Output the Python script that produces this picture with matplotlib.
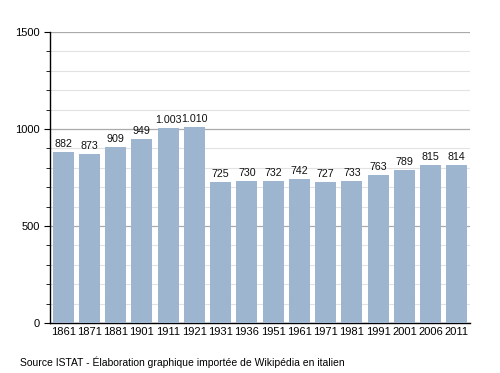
import matplotlib
matplotlib.use("Agg")
import matplotlib.pyplot as plt
from matplotlib.ticker import MultipleLocator

years = ["1861", "1871", "1881", "1901", "1911", "1921", "1931", "1936",
         "1951", "1961", "1971", "1981", "1991", "2001", "2006", "2011"]
population = [882, 873, 909, 949, 1003, 1010, 725, 730, 732, 742, 727, 733, 763, 789, 815, 814]
labels = ["882", "873", "909", "949", "1.003", "1.010", "725", "730", "732", "742",
          "727", "733", "763", "789", "815", "814"]

plt.rcParams['font.family'] = ['Liberation Sans', 'DejaVu Sans']

fig = plt.figure(figsize=(5, 3.73), dpi=100)
ax = fig.add_axes([0.1, 0.134, 0.84, 0.780])

x = range(len(years))
ax.bar(x, population, width=0.8, color='#9db5cf', zorder=3)
for xi, v, lab in zip(x, population, labels):
    ax.text(xi, v + 16, lab, ha='center', va='bottom', fontsize=7.7, color='#111111', zorder=4)

ax.set_xlim(-0.5, len(years) - 0.5)
ax.set_ylim(0, 1500)
ax.set_xticks(list(x))
ax.set_xticklabels(years, fontsize=8)
ax.yaxis.set_major_locator(MultipleLocator(500))
ax.yaxis.set_minor_locator(MultipleLocator(100))
ax.tick_params(axis='y', labelsize=8, length=4, which='major', direction='out')
ax.tick_params(axis='y', which='minor', length=3, direction='out')
ax.tick_params(axis='x', length=0, pad=3)
ax.grid(axis='y', which='major', color='#aaaaaa', linewidth=0.9, zorder=0)
ax.grid(axis='y', which='minor', color='#e2e2e2', linewidth=0.8, zorder=0)
for s in ['top', 'right']:
    ax.spines[s].set_visible(False)
ax.spines['left'].set_linewidth(1.0)
ax.spines['bottom'].set_linewidth(1.0)

fig.text(0.04, 0.03, "Source ISTAT - Élaboration graphique importée de Wikipédia en italien",
         fontsize=7.5, ha='left', va='center')

fig.savefig("out.png", dpi=100)
